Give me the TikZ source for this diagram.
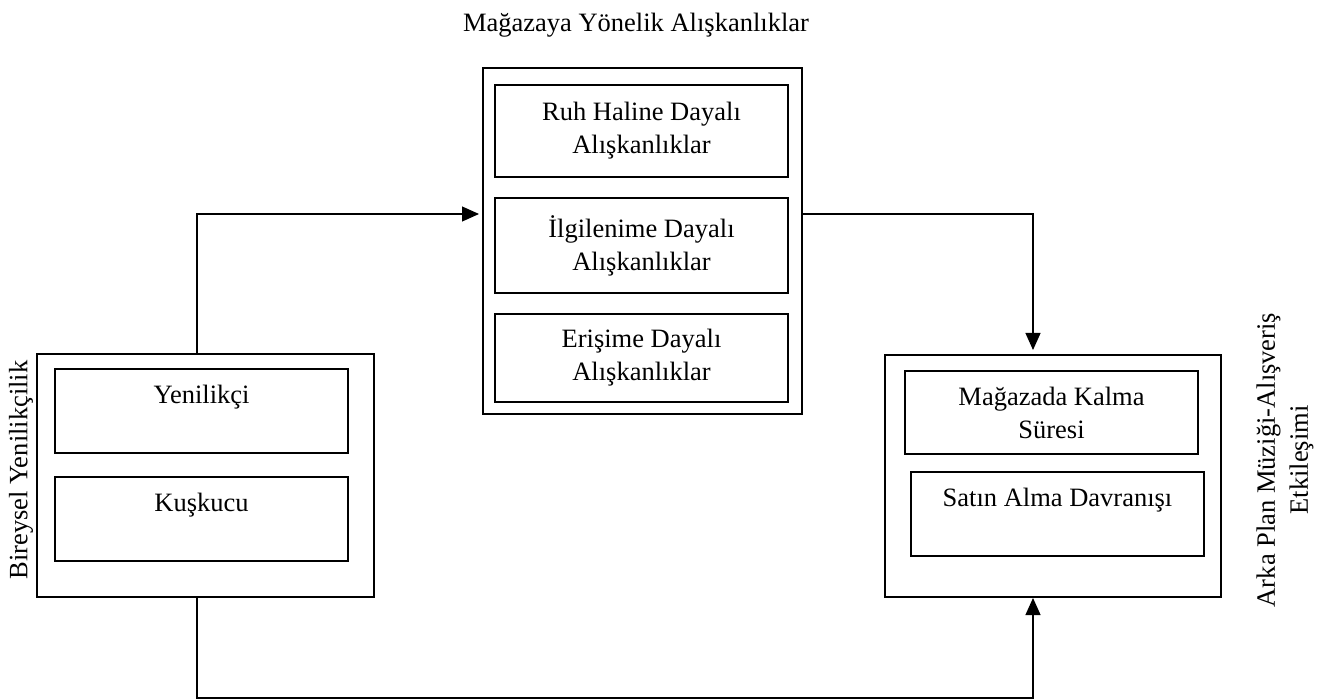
\documentclass[tikz,border=0pt]{standalone}
\usepackage{fontspec}
\setmainfont{Liberation Serif}
\usetikzlibrary{arrows.meta,calc}
\begin{document}
\begin{tikzpicture}[x=1pt,y=-1pt,
  every node/.style={font=\fontsize{26.5}{33}\selectfont},
  outerbox/.style={draw, line width=1.1pt, inner sep=0pt, outer sep=0pt, minimum width=#1},
  innerbox/.style={draw, line width=1.1pt, inner sep=0pt, outer sep=0pt, align=center, minimum width=293pt},
  arr/.style={line width=1.1pt, -{Triangle[length=17pt,width=15pt]}}
]
\useasboundingbox (0,0) rectangle (1325,700);

% title
\node (title) at (636,25) {Mağazaya Yönelik Alışkanlıklar};

% left group
\node[outerbox=337pt, minimum height=243pt] (lo) at (205.5,475.5) {};
\node[innerbox, minimum height=84pt] (yen) at (201.5,411) {Yenilikçi\\~};
\node[innerbox, minimum height=84pt] (kus) at (201.5,519) {Kuşkucu\\~};
\node[rotate=90] (lolab) at (21,470) {Bireysel Yenilikçilik};

% middle group
\node[outerbox=319pt, minimum height=346pt] (mo) at (642.5,241) {};
\node[innerbox, minimum height=92pt] (ruh) at (641.5,131) {Ruh Haline Dayalı\\Alışkanlıklar};
\node[innerbox, minimum height=95pt] (ilg) at (641.5,245.5) {İlgilenime Dayalı\\Alışkanlıklar};
\node[innerbox, minimum height=88pt] (eri) at (641.5,358) {Erişime Dayalı\\Alışkanlıklar};

% right group
\node[outerbox=336pt, minimum height=242pt] (ro) at (1053,476) {};
\node[innerbox, minimum height=83pt] (mag) at (1051.5,412.5) {Mağazada Kalma\\Süresi};
\node[innerbox, minimum height=84pt] (sat) at (1057.5,514) {Satın Alma Davranışı\\~};
\node[rotate=90, align=center] (rolab) at (1285,460) {Arka Plan Müziği-Alışveriş\\Etkileşimi};

% connector helper coordinates
\coordinate (ltop) at (197,214);
\coordinate (rtop) at (1033,214);
\coordinate (bot) at (197,698);

% connectors
\draw[arr, shorten >=4pt] (lo.north -| ltop) |- (mo.west |- ltop);
\draw[arr, shorten >=5pt] (mo.east |- rtop) -| (ro.north -| rtop);
\draw[arr, shorten >=1pt] (lo.south -| bot) |- (bot -| rtop) -- (ro.south -| rtop);
\end{tikzpicture}
\end{document}
